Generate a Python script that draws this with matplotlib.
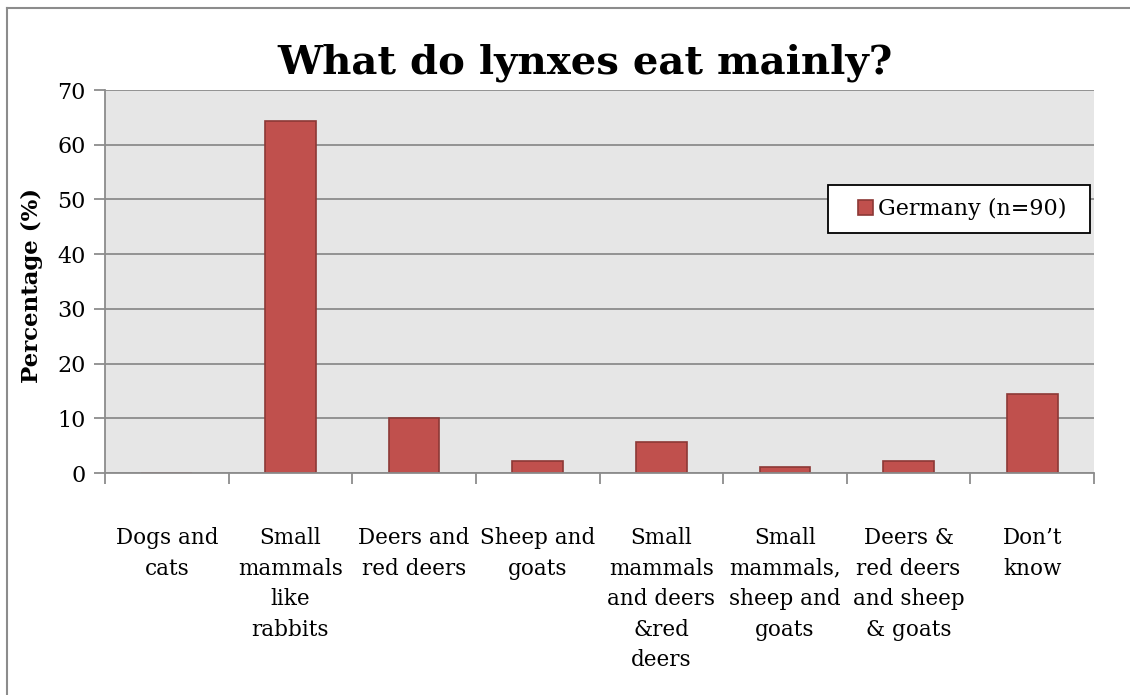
import numpy as np
import matplotlib
matplotlib.use("Agg")
import matplotlib.pyplot as plt
from matplotlib.lines import Line2D
from matplotlib.patches import Rectangle

categories = ["Dogs and\ncats", "Small\nmammals\nlike\nrabbits", "Deers and\nred deers",
              "Sheep and\ngoats", "Small\nmammals\nand deers\n&red\ndeers",
              "Small\nmammals,\nsheep and\ngoats", "Deers &\nred deers\nand sheep\n& goats",
              "Don\u2019t\nknow"]
germany = [0, 64.4, 10.0, 2.2, 5.6, 1.1, 2.2, 14.4]
series_label = "Germany (n=90)"
yticks = [0, 10, 20, 30, 40, 50, 60, 70]

plt.rcParams['font.family'] = ['DejaVu Serif']

fig = plt.figure(figsize=(11.3, 6.95), dpi=100)
ax = fig.add_axes([105 / 1130, 222 / 695, 989 / 1130, 383 / 695])
ax.set_facecolor("#E6E6E6")

x = np.arange(len(categories))
ax.bar(x, germany, width=0.41, color="#C0504D", edgecolor="#8C3836",
       linewidth=1.2, label=series_label, zorder=2)

ax.set_xlim(-0.5, len(categories) - 0.5)
ax.set_ylim(0, 70)
ax.set_yticks(yticks)
ax.set_axisbelow(True)
ax.yaxis.grid(True, color="#8C8C8C", linewidth=1.3)

# major ticks at category boundaries, labels on minor ticks at centres
ax.set_xticks(np.arange(-0.5, len(categories), 1.0))
ax.set_xticklabels([])
ax.set_xticks(x, minor=True)
ax.set_xticklabels(categories, minor=True, fontsize=15.5, linespacing=1.5, va="top")
ax.tick_params(axis="x", which="minor", length=0, pad=39)
ax.tick_params(axis="x", which="major", length=8, width=1.3, color="#8C8C8C")
ax.tick_params(axis="y", length=8, width=1.3, color="#8C8C8C", labelsize=16, pad=6)

for s in ["top", "right"]:
    ax.spines[s].set_visible(False)
for s in ["left", "bottom"]:
    ax.spines[s].set_color("#8C8C8C")
    ax.spines[s].set_linewidth(1.3)
    ax.spines[s].set_zorder(3)

ax.set_ylabel("Percentage (%)", fontsize=16.5, fontweight="bold")
ax.yaxis.set_label_coords(-62 / 989, 0.49)

# legend box drawn separately so its padding matches the original
ax.add_patch(Rectangle((0.731, 0.627), 0.265, 0.125, transform=ax.transAxes,
                       facecolor="white", edgecolor="black", linewidth=1.3, zorder=4))
leg = ax.legend(loc="center", bbox_to_anchor=(0.8665, 0.689), fontsize=16,
                frameon=False, handlelength=0.7, handleheight=0.7,
                handletextpad=0.2, borderpad=0, borderaxespad=0)
leg.set_zorder(5)

fig.text(585 / 1130, 1 - 73 / 695, "What do lynxes eat mainly?", ha="center",
         va="baseline", fontsize=29, fontweight="bold")

# outer chart frame (top and left edges visible)
fig.add_artist(Line2D([6.5 / 1130, 6.5 / 1130], [0, 1 - 7.5 / 695], transform=fig.transFigure,
                      color="#8C8C8C", linewidth=1.5))
fig.add_artist(Line2D([6.5 / 1130, 1], [1 - 7.5 / 695, 1 - 7.5 / 695], transform=fig.transFigure,
                      color="#8C8C8C", linewidth=1.5))

fig.savefig("out.png", dpi=100)
